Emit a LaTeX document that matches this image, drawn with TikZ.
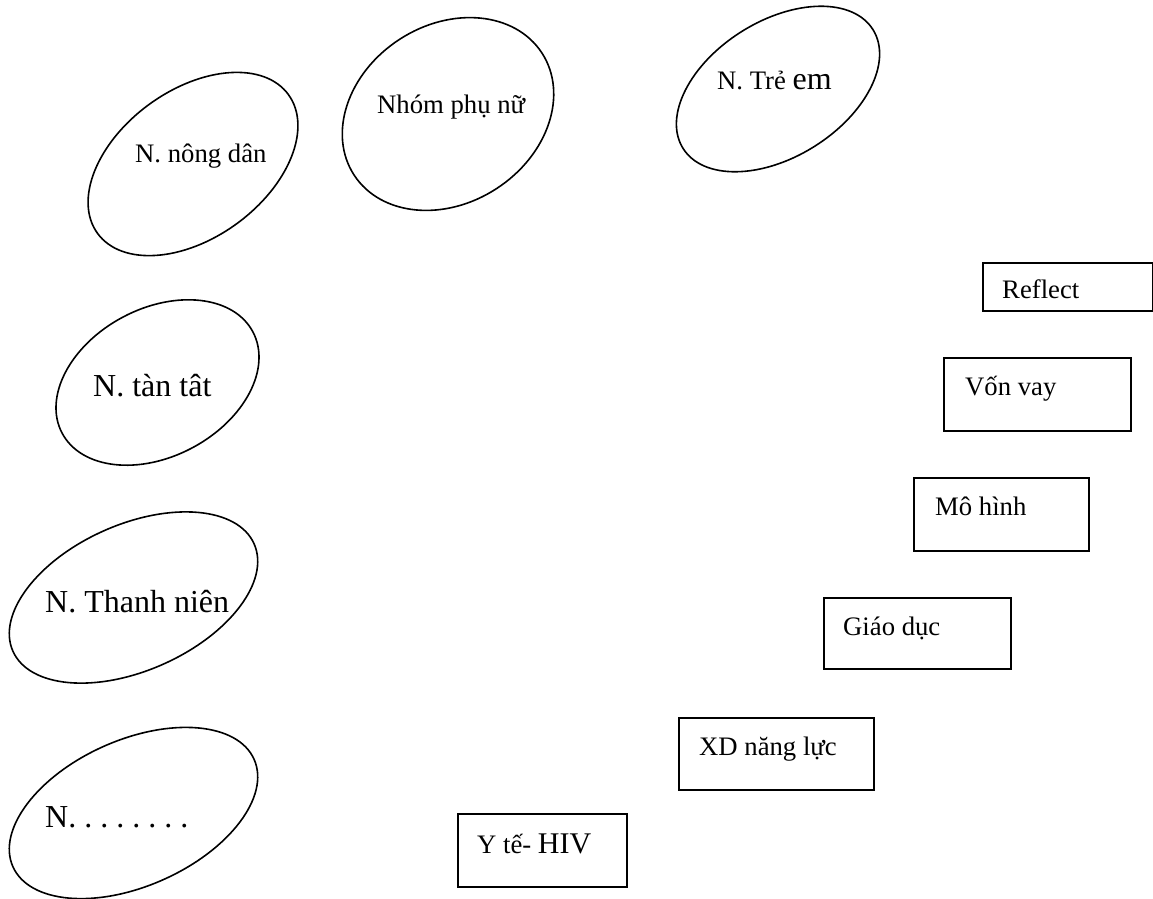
\documentclass[tikz,border=0pt]{standalone}
\usepackage{fontspec}
\setmainfont{Liberation Serif}
\usetikzlibrary{shapes.geometric}
\tikzset{
  grp/.style={draw, ellipse, line width=1.6pt, inner sep=0pt},
  task/.style={draw, rectangle, line width=1.6pt, inner sep=0pt, anchor=north west},
  lbl/.style={anchor=base west, inner sep=0pt, execute at begin node=\frenchspacing},
}
\newcommand\smallsz{\fontsize{26.7}{30}\selectfont}
\newcommand\largesz{\fontsize{32}{36}\selectfont}

\begin{document}
\frenchspacing
\begin{tikzpicture}[x=1pt,y=-1pt]
\useasboundingbox (0,0) rectangle (1153,898);

% target groups (tilted ellipses)
\node[grp, minimum width=236, minimum height=148, rotate=36] (nongdan) at (193,164) {};
\node[grp, minimum width=224, minimum height=178, rotate=33] (phunu) at (448,114) {};
\node[grp, minimum width=224, minimum height=136, rotate=32] (treem) at (778,89) {};
\node[grp, minimum width=216, minimum height=148, rotate=28] (tantat) at (157.5,382.5) {};
\node[grp, minimum width=264, minimum height=146, rotate=24] (thanhnien) at (133.5,597.5) {};
\node[grp, minimum width=264, minimum height=146, rotate=24] (khac) at (133.5,813) {};

\node[lbl] (nongdan-t) at (135,162) {\smallsz N. nông dân};
\node[lbl] (phunu-t) at (377,113) {\smallsz Nhóm phụ nữ};
\node[lbl] (treem-t) at (717,89) {\smallsz N. Trẻ \largesz em};
\node[lbl] (tantat-t) at (93,396) {\largesz N. tàn tât};
\node[lbl] (thanhnien-t) at (45,612) {\largesz N. Thanh niên};
\node[lbl] (khac-t) at (45,827) {\largesz N. . . . . . . .};

% activity boxes
\node[task, minimum width=170, minimum height=48] (reflect) at (982,262) {};
\node[task, minimum width=187, minimum height=73] (vonvay) at (943,357) {};
\node[task, minimum width=175, minimum height=73] (mohinh) at (913,477) {};
\node[task, minimum width=187, minimum height=71] (giaoduc) at (823,597) {};
\node[task, minimum width=195, minimum height=72] (xdnangluc) at (678,717) {};
\node[task, minimum width=169, minimum height=73] (yte) at (457,813) {};

\node[lbl] (reflect-t) at (1002,298) {\smallsz Reflect};
\node[lbl] (vonvay-t) at (965,395) {\smallsz Vốn vay};
\node[lbl] (mohinh-t) at (935,515) {\smallsz Mô hình};
\node[lbl] (giaoduc-t) at (843,635) {\smallsz Giáo dục};
\node[lbl] (xdnangluc-t) at (699,755) {\smallsz XD năng lực};
\node[lbl] (yte-t) at (477,853) {\smallsz Y tế- \fontsize{30}{34}\selectfont HIV};
\end{tikzpicture}
\end{document}
